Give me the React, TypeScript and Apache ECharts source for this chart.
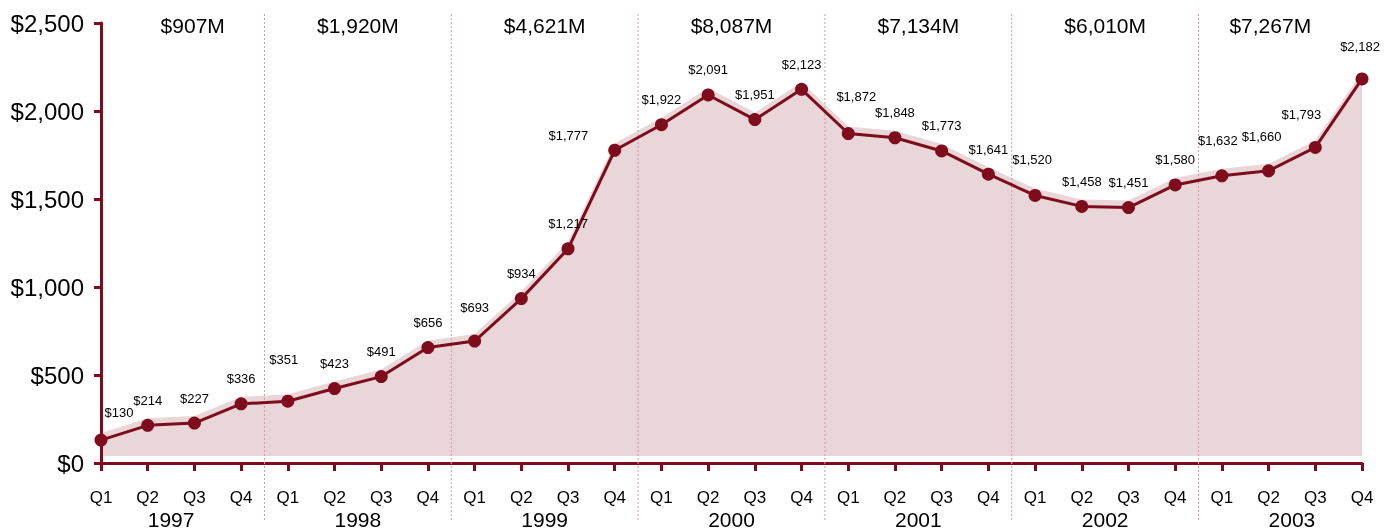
import React, { useEffect, useRef } from "react";
import * as echarts from "echarts";

const YEARS = ["1997", "1998", "1999", "2000", "2001", "2002", "2003"];
const QUARTER_NAMES = ["Q1", "Q2", "Q3", "Q4"];
const YEAR_TOTALS = ["$907M", "$1,920M", "$4,621M", "$8,087M", "$7,134M", "$6,010M", "$7,267M"];
const VALUES = [
  130, 214, 227, 336,
  351, 423, 491, 656,
  693, 934, 1217, 1777,
  1922, 2091, 1951, 2123,
  1872, 1848, 1773, 1641,
  1520, 1458, 1451, 1580,
  1632, 1660, 1793, 2182,
];
const Y_MIN = 0;
const Y_MAX = 2500;
const Y_INTERVAL = 500;

const CATEGORIES = YEARS.flatMap((y) => QUARTER_NAMES.map((q) => `${y} ${q}`));

const DARK = "#7e0c1c";
const FILL = "#e8d6d8";
const SEP = "#d29aa5";
const FONT = "'Liberation Sans', Arial, sans-serif";

const fmt = (v: number) => "$" + v.toLocaleString("en-US");

// label nudges [dx, dy] (styling only)
const LABEL_NUDGE: Record<number, [number, number]> = {
  4: [-4, -17],
  8: [0, -9],
  16: [8, -12],
  20: [-3, -11],
  24: [-4, -10],
  25: [-7, -9],
  26: [-14, -8],
  27: [-2, -7],
};

export default function App() {
  const ref = useRef<HTMLDivElement>(null);
  useEffect(() => {
    if (!ref.current) return;
    const chart = echarts.init(ref.current, null, { renderer: "svg" });
    const left = 101;
    const right = 24;
    const top = 23;
    const bottom = 66;
    const shift = 7;
    const lineData = VALUES.map((v, i) => {
      if (i === 0) {
        return { value: v, label: { position: "top", offset: [18, -3] } };
      }
      if (i === 11) {
        return { value: v, label: { position: "left", distance: 20, offset: [0, -15] } };
      }
      if (LABEL_NUDGE[i]) {
        return { value: v, label: { offset: LABEL_NUDGE[i] } };
      }
      return v;
    });
    chart.setOption({
      animation: false,
      textStyle: { fontFamily: FONT },
      grid: [
        { left, right, top, bottom },
        { left, right, top: top - shift, bottom: bottom + shift },
      ],
      xAxis: [
        {
          gridIndex: 0,
          type: "category",
          data: CATEGORIES,
          boundaryGap: false,
          axisLine: { lineStyle: { color: DARK, width: 3 } },
          axisTick: { inside: false, length: 8, lineStyle: { color: DARK, width: 3 }, alignWithLabel: true },
          axisLabel: {
            interval: 0,
            margin: 26,
            fontSize: 17,
            color: "#000",
            fontFamily: FONT,
            formatter: (v: string) => v.split(" ")[1],
          },
          splitLine: { show: false },
        },
        {
          gridIndex: 1,
          type: "category",
          data: CATEGORIES,
          boundaryGap: false,
          show: false,
        },
      ],
      yAxis: [
        {
          gridIndex: 0,
          type: "value",
          min: Y_MIN,
          max: Y_MAX,
          interval: Y_INTERVAL,
          axisLine: { show: true, lineStyle: { color: DARK, width: 3 } },
          axisTick: { show: true, length: 7, lineStyle: { color: DARK, width: 3 } },
          axisLabel: {
            margin: 17,
            fontSize: 24,
            color: "#000",
            fontFamily: FONT,
            formatter: (v: number) => fmt(v),
          },
          splitLine: { show: false },
        },
        {
          gridIndex: 1,
          type: "value",
          min: Y_MIN,
          max: Y_MAX,
          interval: Y_INTERVAL,
          show: false,
          splitLine: { show: false },
        },
      ],
      series: [
        {
          type: "line",
          xAxisIndex: 1,
          yAxisIndex: 1,
          data: VALUES,
          z: 0,
          symbol: "none",
          lineStyle: { width: 0, color: FILL },
          areaStyle: { color: FILL, opacity: 1 },
          silent: true,
        },
        {
          type: "line",
          xAxisIndex: 0,
          yAxisIndex: 0,
          data: lineData,
          z: 5,
          symbol: "circle",
          symbolSize: 13,
          lineStyle: { width: 3, color: DARK },
          itemStyle: { color: DARK },
          label: {
            show: true,
            position: "top",
            distance: 12,
            fontSize: 13,
            color: "#000",
            fontFamily: FONT,
            formatter: (p: any) => fmt(p.value as number),
          },
        },
      ],
    });

    const xp = (i: number) => chart.convertToPixel({ xAxisIndex: 0 }, i) as number;
    const graphics: any[] = [];
    const seps: number[] = [];
    for (let k = 1; k < YEARS.length; k++) {
      const x = (xp(4 * k - 1) + xp(4 * k)) / 2;
      seps.push(x);
      graphics.push({
        type: "line",
        z: 3,
        shape: { x1: x, y1: 14, x2: x, y2: 521 },
        style: { stroke: SEP, lineWidth: 1, lineDash: [2, 2] },
        silent: true,
      });
    }
    const x0 = xp(0);
    const xN = xp(VALUES.length - 1);
    YEARS.forEach((y, k) => {
      const lx = k === 0 ? x0 : seps[k - 1];
      const rx = k === YEARS.length - 1 ? xN : seps[k];
      const totalX = (lx + rx) / 2 + (k === 0 ? 10 : k === YEARS.length - 1 ? -10 : 0);
      graphics.push({
        type: "text",
        z: 10,
        x: totalX,
        y: 25,
        style: {
          text: YEAR_TOTALS[k],
          fontSize: 21,
          fontFamily: FONT,
          fill: "#000",
          align: "center",
          verticalAlign: "middle",
        },
      });
      const yx = (xp(4 * k + 1) + xp(4 * k + 2)) / 2;
      graphics.push({
        type: "text",
        z: 10,
        x: yx,
        y: 519,
        style: {
          text: y,
          fontSize: 21,
          fontFamily: FONT,
          fill: "#000",
          align: "center",
          verticalAlign: "middle",
        },
      });
    });
    chart.setOption({ graphic: graphics });

    return () => chart.dispose();
  }, []);
  return (
    <div
      ref={ref}
      style={{ position: "fixed", left: 0, top: 0, width: 1386, height: 529 }}
    />
  );
}
